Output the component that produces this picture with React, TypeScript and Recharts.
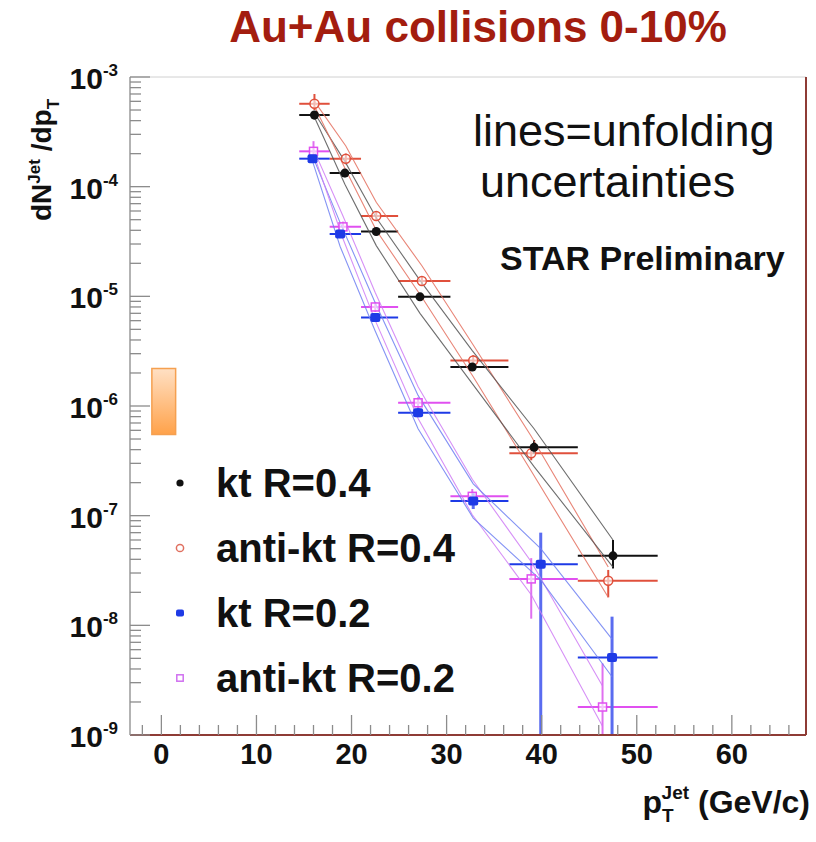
import React from "react";
import { ScatterChart, Scatter, XAxis, YAxis, ErrorBar, ReferenceArea, ReferenceLine } from "recharts";

const W = 816;
const H = 842;
const FONT = "'Liberation Sans', Arial, Helvetica, sans-serif";

const X_MIN = -3.3;
const X_MAX = 67.8;
const Y_MIN = 1e-9;
const Y_MAX = 1e-3;

// pT bin edges (GeV/c)
const binLo = [14.5, 17.7, 21.0, 24.9, 30.4, 36.6, 43.8];
const binHi = [17.7, 21.0, 24.9, 30.4, 36.5, 43.8, 52.2];

// kt R=0.4
const ptKt04 = [16.1, 19.3, 22.6, 27.2, 32.7, 39.2, 47.5];
const yKt04 = [4.5e-4, 1.33e-4, 3.9e-5, 9.9e-6, 2.27e-6, 4.2e-7, 4.3e-8];
const yKt04Lo = [4.1e-4, 1.22e-4, 3.6e-5, 9.2e-6, 2.1e-6, 3.7e-7, 3.3e-8];
const yKt04Hi = [4.9e-4, 1.45e-4, 4.2e-5, 1.07e-5, 2.45e-6, 4.9e-7, 6.0e-8];
const bandKt04Up = [4.7e-4, 1.7e-4, 5.2e-5, 1.4e-5, 3.2e-6, 6.2e-7, 6.0e-8];
const bandKt04Dn = [4.3e-4, 1.05e-4, 2.9e-5, 7.0e-6, 1.6e-6, 2.8e-7, 3.4e-8];

// anti-kt R=0.4
const ptAkt04 = [16.1, 19.4, 22.6, 27.4, 32.8, 38.9, 47.0];
const yAkt04 = [5.7e-4, 1.8e-4, 5.4e-5, 1.38e-5, 2.6e-6, 3.7e-7, 2.55e-8];
const yAkt04Lo = [5.0e-4, 1.6e-4, 4.9e-5, 1.25e-5, 2.35e-6, 3.2e-7, 1.8e-8];
const yAkt04Hi = [7.0e-4, 2.0e-4, 6.0e-5, 1.52e-5, 2.9e-6, 4.3e-7, 3.2e-8];
const bandAkt04Up = [6.0e-4, 2.35e-4, 7.2e-5, 1.9e-5, 3.6e-6, 5.3e-7, 3.4e-8];
const bandAkt04Dn = [5.4e-4, 1.42e-4, 4.0e-5, 9.8e-6, 1.85e-6, 2.55e-7, 1.8e-8];

// kt R=0.2
const ptKt02 = [15.9, 18.8, 22.5, 27.0, 32.8, 39.9, 47.4];
const yKt02 = [1.8e-4, 3.7e-5, 6.4e-6, 8.7e-7, 1.36e-7, 3.6e-8, 5.1e-9];
const yKt02Lo = [1.65e-4, 3.4e-5, 5.9e-6, 7.9e-7, 1.15e-7, 1e-9, 1e-9];
const yKt02Hi = [1.95e-4, 4.0e-5, 6.9e-6, 9.6e-7, 1.6e-7, 7.0e-8, 1.2e-8];
const bandKt02Up = [1.9e-4, 4.7e-5, 8.7e-6, 1.25e-6, 1.95e-7, 5.0e-8, 7.5e-9];
const bandKt02Dn = [1.7e-4, 2.85e-5, 4.8e-6, 6.2e-7, 9.5e-8, 2.6e-8, 3.4e-9];

// anti-kt R=0.2
const ptAkt02 = [16.0, 19.1, 22.5, 27.0, 32.7, 38.9, 46.4];
const yAkt02 = [2.1e-4, 4.3e-5, 8.0e-6, 1.07e-6, 1.5e-7, 2.65e-8, 1.8e-9];
const yAkt02Lo = [1.85e-4, 3.9e-5, 7.2e-6, 9.5e-7, 1.3e-7, 1.15e-8, 1e-9];
const yAkt02Hi = [2.6e-4, 4.8e-5, 8.9e-6, 1.2e-6, 1.75e-7, 4.1e-8, 4.5e-9];
const bandAkt02Up = [2.2e-4, 5.4e-5, 1.08e-5, 1.5e-6, 2.15e-7, 3.8e-8, 2.8e-9];
const bandAkt02Dn = [2.0e-4, 3.35e-5, 6.0e-6, 7.7e-7, 1.02e-7, 1.9e-8, 1.2e-9];

// normalisation uncertainty box
const normX = [-1.0, 1.5];
const normY = [5.5e-7, 2.2e-6];

const decades = [-9, -8, -7, -6, -5, -4, -3];
const mantissas = [1, 2, 3, 4, 5, 6, 7, 8, 9];
const yTicks = decades
  .flatMap((d) => mantissas.map((m) => Number((m * Math.pow(10, d)).toPrecision(3))))
  .filter((v) => v <= Y_MAX * 1.0001);
const xMajor = [0, 10, 20, 30, 40, 50, 60];
const xTicks = Array.from({ length: 35 }, (_, i) => -2 + 2 * i);

const points = (pt: number[], y: number[], lo: number[], hi: number[]) =>
  pt.map((x, i) => ({
    x,
    y: y[i],
    ex: [x - binLo[i], binHi[i] - x],
    ey: [y[i] - lo[i], hi[i] - y[i]],
  }));
const curve = (pt: number[], y: number[]) => pt.map((x, i) => ({ x, y: y[i] }));

const series = [
  { name: "anti-kt R=0.4", color: "#e0503c", band: "#e4705f", vbar: "#e0503c", pts: points(ptAkt04, yAkt04, yAkt04Lo, yAkt04Hi), up: curve(ptAkt04, bandAkt04Up), dn: curve(ptAkt04, bandAkt04Dn), marker: "ocircle" },
  { name: "kt R=0.4", color: "#111111", band: "#555555", vbar: "#111111", pts: points(ptKt04, yKt04, yKt04Lo, yKt04Hi), up: curve(ptKt04, bandKt04Up), dn: curve(ptKt04, bandKt04Dn), marker: "dot" },
  { name: "anti-kt R=0.2", color: "#e050f0", band: "#cf7cf5", vbar: "#e070f0", pts: points(ptAkt02, yAkt02, yAkt02Lo, yAkt02Hi), up: curve(ptAkt02, bandAkt02Up), dn: curve(ptAkt02, bandAkt02Dn), marker: "osquare" },
  { name: "kt R=0.2", color: "#1e3ae6", band: "#6f80f2", vbar: "#5a6cf0", pts: points(ptKt02, yKt02, yKt02Lo, yKt02Hi), up: curve(ptKt02, bandKt02Up), dn: curve(ptKt02, bandKt02Dn), marker: "square" },
];

function Marker({ kind, cx, cy, color, size = 1 }: any) {
  if (kind === "dot") return <circle cx={cx} cy={cy} r={4.5 * size} fill={color} />;
  if (kind === "ocircle") return <circle cx={cx} cy={cy} r={4.5 * size} fill="#fff" fillOpacity={0.6} stroke={color} strokeWidth={1.5} />;
  if (kind === "square") return <rect x={cx - 5 * size} y={cy - 4.5 * size} width={10 * size} height={9 * size} rx={2} fill={color} />;
  return <rect x={cx - 4 * size} y={cy - 4 * size} width={8 * size} height={8 * size} fill="#fff" fillOpacity={0.6} stroke={color} strokeWidth={1.5} />;
}

function YTick({ x, y, payload }: any) {
  const v = payload.value;
  const e = Math.round(Math.log10(v));
  const major = Math.abs(Math.log10(v) - e) < 1e-6;
  return (
    <g>
      <line x1={x} y1={y} x2={x + (major ? 20 : 11)} y2={y} stroke="#8c8c8c" strokeWidth={1.3} />
      {major && (
        <text x={x - 12} y={y + 12} textAnchor="end" fontFamily={FONT} fontWeight="bold" fontSize={30} fill="#111">
          <tspan>10</tspan>
          <tspan dy={-13} fontSize={17}>{e}</tspan>
        </text>
      )}
    </g>
  );
}

function XTick({ x, y, payload }: any) {
  const v = payload.value;
  const major = xMajor.includes(v);
  return (
    <g>
      <line x1={x} y1={y} x2={x} y2={y - (major ? 20 : 10)} stroke="#8c8c8c" strokeWidth={1.3} />
      {major && (
        <text x={x} y={y + 29} textAnchor="middle" fontFamily={FONT} fontWeight="bold" fontSize={29} fill="#111">
          {v}
        </text>
      )}
    </g>
  );
}

const legendRows = [
  { label: "kt R=0.4", kind: "dot", color: "#111111", y: 483 },
  { label: "anti-kt R=0.4", kind: "ocircle", color: "#e07060", y: 548 },
  { label: "kt R=0.2", kind: "square", color: "#1e3ae6", y: 613 },
  { label: "anti-kt R=0.2", kind: "osquare", color: "#d070f0", y: 678 },
];

export default function App() {
  return (
    <div style={{ position: "absolute", left: 0, top: 0, width: W, height: H, background: "#fff" }}>
      <ScatterChart width={W} height={H} margin={{ top: 77, right: 10, bottom: 106, left: 129 }}>
        <defs>
          <linearGradient id="normGrad" x1="0" y1="0" x2="0" y2="1">
            <stop offset="0%" stopColor="#ffe0c4" />
            <stop offset="100%" stopColor="#ffa24a" />
          </linearGradient>
        </defs>
        <XAxis
          type="number" dataKey="x" domain={[X_MIN, X_MAX]} allowDataOverflow
          ticks={xTicks} interval={0} tick={<XTick />} tickLine={false} tickSize={0} tickMargin={0}
          height={1} axisLine={{ stroke: "#8e3b35", strokeWidth: 2 }}
        />
        <YAxis
          type="number" dataKey="y" scale="log" domain={[Y_MIN, Y_MAX]} allowDataOverflow
          ticks={yTicks} interval={0} tick={<YTick />} tickLine={false} tickSize={0} tickMargin={0}
          width={1} axisLine={{ stroke: "#9a9a9a", strokeWidth: 1.5 }}
        />
        <ReferenceLine y={Y_MAX} stroke="#d0d0d0" strokeWidth={1} />
        <ReferenceLine x={X_MAX} stroke="#8e3b35" strokeWidth={2} />
        <ReferenceArea
          x1={normX[0]} x2={normX[1]} y1={normY[0]} y2={normY[1]}
          fill="url(#normGrad)" fillOpacity={1} stroke="#f5a050" strokeWidth={1.5}
        />
        {series.map((s) => (
          <Scatter key={s.name + "-up"} data={s.up} line={{ stroke: s.band, strokeWidth: 1.1, strokeOpacity: 0.85 }} shape={() => <g />} isAnimationActive={false} />
        ))}
        {series.map((s) => (
          <Scatter key={s.name + "-dn"} data={s.dn} line={{ stroke: s.band, strokeWidth: 1.1, strokeOpacity: 0.85 }} shape={() => <g />} isAnimationActive={false} />
        ))}
        {series.map((s) => (
          <Scatter
            key={s.name}
            data={s.pts}
            isAnimationActive={false}
            shape={(p: any) => <Marker kind={s.marker} cx={p.cx} cy={p.cy} color={s.color} />}
          >
            <ErrorBar dataKey="ex" direction="x" width={0} stroke={s.color} strokeWidth={2} isAnimationActive={false} />
            <ErrorBar dataKey="ey" direction="y" width={0} stroke={s.vbar} strokeWidth={s.name === "kt R=0.2" ? 3 : 2} isAnimationActive={false} />
          </Scatter>
        ))}
      </ScatterChart>

      <svg width={W} height={H} style={{ position: "absolute", left: 0, top: 0, pointerEvents: "none" }}>
        <text x={478} y={42} textAnchor="middle" fontFamily={FONT} fontWeight="bold" fontSize={44} fill="#a31d0f">
          Au+Au collisions 0-10%
        </text>
        <text x={473} y={146} fontFamily={FONT} fontSize={45} fill="#111">lines=unfolding</text>
        <text x={480} y={197} fontFamily={FONT} fontSize={45} fill="#111">uncertainties</text>
        <text x={500} y={270} fontFamily={FONT} fontWeight="bold" fontSize={34} fill="#111">STAR Preliminary</text>

        <text transform="translate(51,221) rotate(-90)" fontFamily={FONT} fontWeight="bold" fontSize={28} fill="#111">
          <tspan>dN</tspan>
          <tspan dy={-11} fontSize={17}>Jet</tspan>
          <tspan dy={11}> /dp</tspan>
          <tspan dy={8} fontSize={17}>T</tspan>
        </text>

        <text x={810} y={813} textAnchor="end" fontFamily={FONT} fontWeight="bold" fontSize={32} fill="#111">
          <tspan>p</tspan>
          <tspan dy={9} fontSize={19}>T</tspan>
          <tspan dx={-12} dy={-23} fontSize={19}>Jet</tspan>
          <tspan dy={14}> (GeV/c)</tspan>
        </text>

        {legendRows.map((r) => (
          <g key={r.label}>
            <Marker kind={r.kind} cx={180} cy={r.y} color={r.color} size={0.8} />
            <text x={216} y={r.y + 14} fontFamily={FONT} fontWeight="bold" fontSize={40} fill="#111">
              {r.label}
            </text>
          </g>
        ))}
      </svg>
    </div>
  );
}
